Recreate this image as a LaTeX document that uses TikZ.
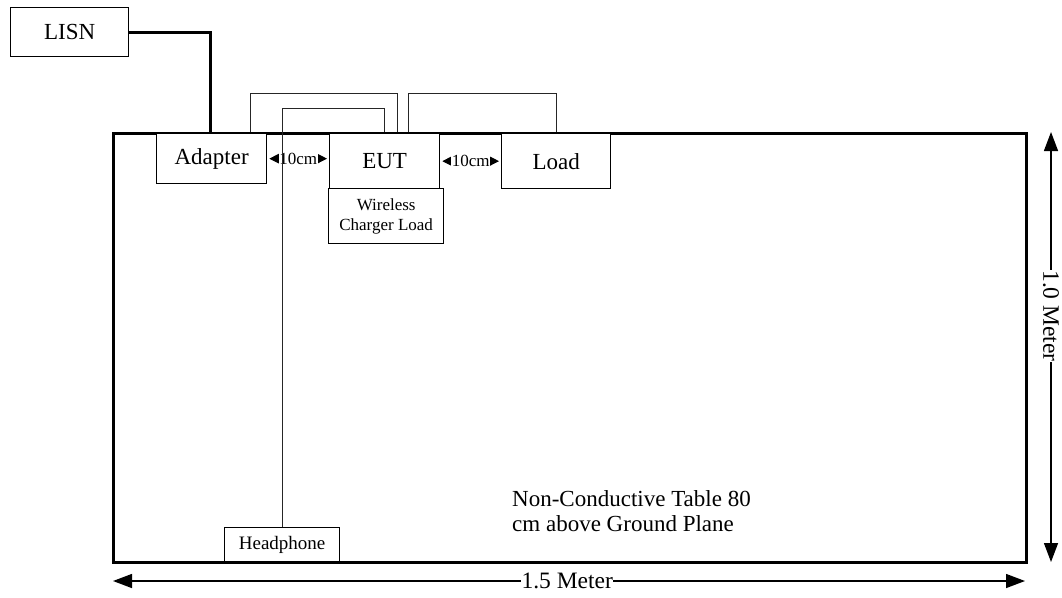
\documentclass[tikz,border=0pt]{standalone}
\usepackage{fontspec}
\setmainfont{Liberation Serif}
\usetikzlibrary{arrows.meta,calc}
\begin{document}
\begin{tikzpicture}[x=1pt,y=-1pt,
  box/.style={draw, line width=1.3pt, fill=white, inner sep=0pt, anchor=north west},
  bigtxt/.style={font=\fontsize{23}{26}\selectfont},
  heavy/.style={line width=3pt},
  cable/.style={line width=0.9pt, draw=black!85},
  gap/.style={{Triangle[length=10pt,width=10pt]}-{Triangle[length=10pt,width=10pt]}, line width=1pt, shorten <=2pt, shorten >=2pt},
  gaplbl/.style={fill=white, inner ysep=0pt, inner xsep=0.5pt, font=\fontsize{17}{20}\selectfont},
  dim/.style={{Triangle[length=19pt,width=14pt]}-{Triangle[length=19pt,width=14pt]}, line width=1.4pt},
  dimlbl/.style={fill=white, inner ysep=0pt, inner xsep=0.5pt, font=\fontsize{23.5}{26}\selectfont}
]
\useasboundingbox (0,0) rectangle (1062,597);

% table
\node[draw, heavy, minimum width=913pt, minimum height=429pt, anchor=north west, inner sep=0pt] (table) at (112,132) {};

% connection points on the table top
\coordinate (lisnEnd) at (210,132);
\coordinate (c1a) at (250,132);
\coordinate (c1b) at (397,132);
\coordinate (hpEnd) at (384,132);
\coordinate (c3a) at (408,132);
\coordinate (c3b) at (556,132);

% boxes
\node[box, bigtxt, minimum width=118pt, minimum height=49pt] (LISN) at (10,7) {LISN};
\node[box, bigtxt, minimum width=110pt, minimum height=50pt] (Adapter) at (156,133) {Adapter};
\node[box, bigtxt, minimum width=110pt, minimum height=55pt] (EUT) at (329,133) {EUT};
\node[box, bigtxt, minimum width=109pt, minimum height=55pt] (Load) at (501,133) {Load};
\node[box, align=center, font=\fontsize{17}{20}\selectfont, minimum width=115pt, minimum height=55pt] (WCL) at (328,188) {Wireless\\Charger Load};
\node[box, font=\fontsize{19}{22}\selectfont, minimum width=115pt, minimum height=34pt] (Headphone) at (224,527) {Headphone};

% 10cm spacings
\draw[gap] (Adapter.east) -- (Adapter.east -| EUT.west) node[midway, gaplbl] {10cm};
\draw[gap] (EUT.east) -- (Load.west) node[midway, gaplbl] {10cm};

% cables
\draw[heavy] (LISN.east) -| (lisnEnd);
\draw[cable] (c1a) -- ++(0,-39) -| (c1b);
\draw[cable] (Headphone.north) -- ++(0,-419) -| (hpEnd);
\draw[cable] (c3a) -- ++(0,-39) -| (c3b);

% table caption
\node[anchor=base west, align=left, inner sep=0pt, font=\fontsize{23}{25}\selectfont] (caption) at (512,531) {Non-Conductive Table 80\\cm above Ground Plane};

% dimensions
\coordinate (hL) at (113,581);
\coordinate (hR) at (1025,581);
\coordinate (vT) at (1051,132);
\coordinate (vB) at (1051,562);
\draw[dim] (hL) -- (hR) node[pos=0.498, dimlbl] {1.5 Meter};
\draw[dim] (vT) -- (vB) node[pos=0.428, dimlbl, rotate=-90] {1.0 Meter};
\end{tikzpicture}
\end{document}
